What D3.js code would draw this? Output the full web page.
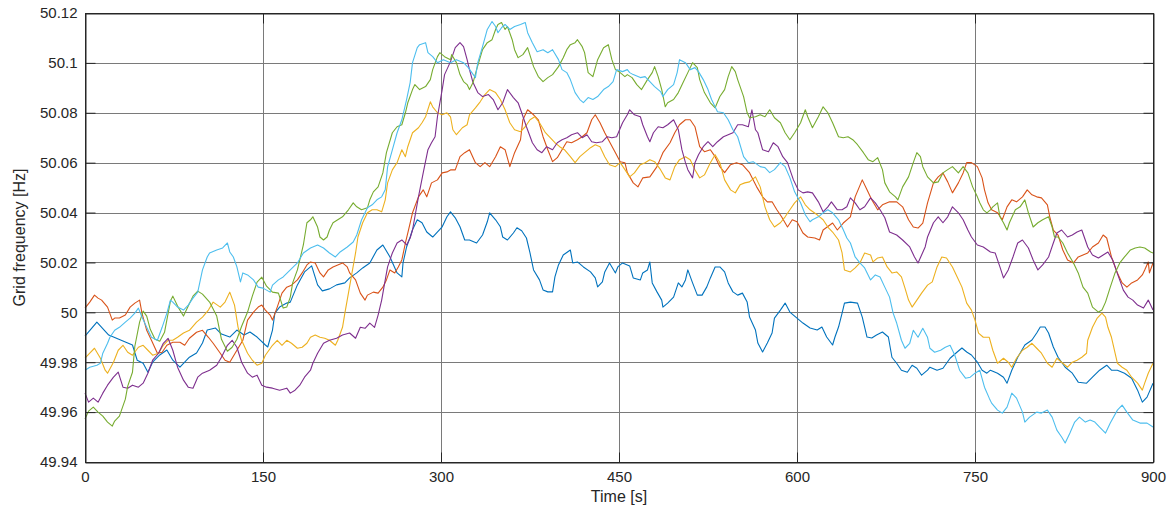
<!DOCTYPE html>
<html><head><meta charset="utf-8">
<script src="https://cdn.jsdelivr.net/npm/d3@7"></script>
<style>body{margin:0;background:#fff}svg{display:block;font-family:"Liberation Sans",Arial,sans-serif}</style>
</head><body><svg id="c" width="1171" height="515"></svg>
<script>
const timeTicks=[0,150,300,450,600,750,900];
const freqTicks=[49.94,49.96,49.98,50,50.02,50.04,50.06,50.08,50.1,50.12];
const seriesNames=["s1","s2","s3","s4","s5","s6"];
const seriesColors=["#0072BD","#D95319","#EDB120","#7E2F8E","#77AC30","#4DBEEE"];
const blue=[[0,49.9905],[10,49.9961],[20,49.9909],[30,49.9889],[40,49.9869],[44,49.9808],[49,49.9796],[53,49.976],[57,49.98],[63,49.9829],[69,49.9849],[74,49.9808],[80,49.978],[84,49.98],[88,49.982],[94,49.9837],[99,49.9877],[103,49.9929],[110,49.9937],[115,49.9913],[122,49.9901],[128,49.9929],[134,49.9909],[139,49.9921],[145,49.9901],[152,49.9869],[154,49.9861],[158,49.9929],[160,49.9997],[164,50.0021],[170,50.0037],[173,50.0041],[179,50.011],[185,50.0162],[191,50.0186],[196,50.011],[200,50.0086],[206,50.0094],[212,50.011],[219,50.0118],[223,50.0138],[229,50.0158],[234,50.0178],[240,50.0198],[246,50.025],[251,50.027],[257,50.0222],[263,50.0158],[267,50.0142],[268,50.0198],[271,50.0262],[274,50.0302],[276,50.0331],[280,50.0371],[284,50.0359],[288,50.0322],[293,50.0302],[301,50.0343],[305,50.0383],[308,50.0403],[312,50.0379],[316,50.0343],[320,50.029],[324,50.029],[330,50.0278],[335,50.031],[339,50.0363],[341,50.0399],[346,50.0371],[350,50.0343],[352,50.0302],[356,50.029],[361,50.0318],[364,50.0339],[368,50.0327],[372,50.0298],[375,50.0238],[378,50.017],[383,50.013],[386,50.009],[390,50.0082],[394,50.0082],[396,50.0142],[399,50.019],[403,50.023],[409,50.025],[411,50.0198],[415,50.0202],[420,50.0182],[426,50.0162],[430,50.0138],[432,50.0102],[436,50.0122],[438,50.0162],[442,50.0198],[447,50.0158],[449,50.0182],[453,50.0198],[459,50.0186],[462,50.0138],[468,50.013],[470,50.0158],[474,50.017],[476,50.0202],[478,50.0118],[482,50.0082],[486,50.0049],[487,50.0021],[491,50.0037],[496,50.0061],[500,50.0118],[503,50.0102],[506,50.013],[508,50.017],[512,50.0118],[516,50.0069],[520,50.0069],[524,50.0102],[527,50.0138],[531,50.0182],[535,50.0182],[539,50.0162],[542,50.0118],[546,50.0082],[550,50.0069],[554,50.0077],[558,50.0041],[560,49.9981],[565,49.9929],[567,49.9877],[571,49.9841],[575,49.9877],[579,49.9917],[581,49.9977],[586,50.0009],[590,50.0037],[594,50.0001],[600,49.9977],[605,49.9957],[611,49.9937],[617,49.9929],[621,49.9941],[625,49.9901],[630,49.9869],[632,49.9901],[635,49.9941],[638,49.9997],[640,50.0037],[645,50.0041],[651,50.0037],[655,49.9981],[659,49.9901],[663,49.9897],[667,49.9909],[672,49.9921],[677,49.9901],[680,49.982],[684,49.9796],[688,49.9768],[693,49.976],[697,49.9788],[701,49.9776],[705,49.9748],[710,49.9768],[712,49.978],[718,49.9768],[723,49.9776],[729,49.9816],[735,49.9841],[739,49.9857],[743,49.9841],[747,49.9829],[752,49.98],[756,49.9768],[760,49.9756],[763,49.9768],[769,49.9756],[774,49.974],[777,49.9716],[781,49.9768],[786,49.982],[792,49.9869],[798,49.9889],[802,49.9917],[805,49.9941],[809,49.9941],[812,49.9917],[816,49.9861],[820,49.982],[826,49.978],[832,49.9756],[837,49.972],[844,49.9716],[849,49.974],[855,49.9768],[861,49.9788],[865,49.9768],[870,49.9768],[876,49.9756],[882,49.9736],[887,49.9688],[891,49.964],[895,49.966],[900,49.9716]];
const orange=[[0,50.0017],[4,50.0041],[8,50.0069],[11,50.0057],[14,50.0049],[19,50.0021],[23,49.9969],[25,49.9977],[29,49.9977],[34,49.9989],[38,50.0021],[42,50.0037],[46,50.0049],[48,49.9997],[52,49.9928],[56,49.9888],[61,49.9836],[65,49.984],[69,49.9868],[74,49.988],[80,49.988],[84,49.9868],[88,49.9896],[94,49.992],[99,49.9928],[104,49.99],[108,49.9876],[114,49.9836],[118,49.9808],[122,49.98],[128,49.9848],[133,49.9888],[137,49.9969],[142,50.0001],[146,50.0021],[149,50.0029],[152,50.0009],[156,49.9989],[158,49.9969],[162,50.0021],[166,50.0077],[170,50.0101],[174,50.0109],[179,50.013],[183,50.0158],[187,50.019],[190,50.0202],[194,50.0198],[198,50.0158],[201,50.0142],[205,50.017],[209,50.0182],[213,50.019],[217,50.0198],[221,50.0182],[223,50.0158],[228,50.013],[232,50.0077],[236,50.0049],[238,50.0069],[243,50.0081],[247,50.0077],[251,50.0101],[254,50.013],[257,50.017],[261,50.0158],[264,50.0182],[267,50.021],[270,50.0278],[272,50.0318],[276,50.0399],[281,50.0463],[285,50.0491],[288,50.0463],[292,50.0519],[297,50.0531],[301,50.0559],[305,50.0563],[308,50.0571],[312,50.0571],[316,50.0624],[320,50.064],[324,50.0652],[329,50.06],[333,50.0584],[337,50.06],[341,50.0584],[346,50.0624],[350,50.0664],[354,50.0652],[358,50.0584],[362,50.064],[367,50.0692],[369,50.0772],[373,50.0812],[378,50.0792],[382,50.0772],[386,50.0704],[390,50.0652],[394,50.0604],[398,50.062],[402,50.0652],[406,50.0684],[410,50.068],[415,50.0692],[419,50.0704],[423,50.072],[427,50.0772],[430,50.0792],[434,50.076],[438,50.072],[442,50.0684],[447,50.064],[451,50.0604],[455,50.06],[457,50.056],[462,50.0519],[466,50.0503],[470,50.0539],[476,50.0543],[482,50.0584],[487,50.064],[493,50.068],[497,50.072],[501,50.0752],[506,50.0772],[510,50.0772],[514,50.0744],[518,50.0664],[522,50.0644],[527,50.0652],[531,50.0624],[535,50.0584],[539,50.056],[544,50.0592],[549,50.06],[554,50.0592],[560,50.056],[566,50.0503],[571,50.0463],[575,50.0443],[579,50.0443],[583,50.0411],[587,50.0383],[592,50.0342],[596,50.0371],[600,50.0363],[605,50.0318],[609,50.0302],[615,50.0298],[619,50.029],[622,50.033],[630,50.0358],[634,50.033],[639,50.0358],[645,50.0383],[649,50.0463],[655,50.0531],[659,50.0491],[663,50.0451],[668,50.0411],[672,50.0431],[678,50.0443],[684,50.0443],[689,50.0423],[694,50.0371],[698,50.0342],[702,50.0338],[706,50.0358],[710,50.0439],[715,50.0519],[719,50.0543],[723,50.0559],[727,50.0523],[731,50.0479],[736,50.0519],[740,50.0559],[743,50.06],[747,50.06],[752,50.0584],[756,50.0539],[758,50.0491],[761,50.0439],[764,50.0411],[769,50.0399],[773,50.0371],[777,50.0423],[781,50.0451],[785,50.0443],[790,50.0463],[794,50.0491],[798,50.0471],[802,50.0463],[806,50.0459],[811,50.0431],[813,50.0383],[816,50.033],[820,50.031],[824,50.025],[828,50.021],[833,50.0198],[837,50.0222],[841,50.023],[845,50.0238],[849,50.0262],[854,50.0278],[858,50.031],[861,50.0298],[865,50.0222],[870,50.0158],[874,50.0118],[878,50.0101],[882,50.0118],[887,50.013],[891,50.015],[893,50.017],[896,50.0202],[897,50.0158],[900,50.0198]];
const yellow=[[0,49.9816],[4,49.9836],[8,49.9856],[13,49.9816],[17,49.9768],[19,49.9756],[24,49.98],[28,49.9848],[32,49.9868],[36,49.984],[40,49.9828],[45,49.986],[49,49.9868],[53,49.9848],[57,49.9828],[62,49.9836],[66,49.9868],[70,49.9888],[74,49.9888],[78,49.99],[83,49.9917],[88,49.9928],[94,49.9961],[99,49.9981],[104,50.0009],[108,50.0041],[114,50.0021],[118,50.0041],[122,50.0081],[126,50.0029],[129,49.994],[132,49.9888],[137,49.9836],[141,49.9808],[145,49.9788],[149,49.9796],[152,49.9828],[158,49.9868],[162,49.9888],[166,49.9868],[170,49.9888],[174,49.9876],[179,49.9856],[183,49.986],[187,49.9876],[190,49.99],[194,49.9909],[198,49.99],[202,49.9896],[206,49.9888],[211,49.9868],[213,49.9888],[217,49.994],[219,49.9997],[222,50.0077],[225,50.0158],[228,50.0238],[230,50.0302],[234,50.0359],[238,50.0399],[242,50.0411],[246,50.0411],[250,50.0403],[253,50.0451],[255,50.0519],[259,50.0571],[263,50.06],[267,50.0652],[270,50.0624],[272,50.0664],[276,50.072],[281,50.074],[284,50.076],[287,50.0784],[291,50.0844],[293,50.0824],[297,50.08],[301,50.0792],[305,50.08],[308,50.0784],[310,50.0732],[313,50.0712],[318,50.074],[322,50.0752],[324,50.0792],[329,50.082],[333,50.0844],[337,50.0873],[341,50.0893],[346,50.0881],[350,50.0853],[354,50.0812],[358,50.076],[362,50.0732],[367,50.0724],[371,50.0744],[375,50.0772],[379,50.0784],[383,50.076],[388,50.072],[392,50.07],[396,50.068],[400,50.0664],[404,50.0652],[409,50.0624],[413,50.06],[417,50.0624],[421,50.064],[426,50.066],[430,50.0672],[434,50.0664],[438,50.0624],[442,50.0592],[447,50.0584],[451,50.06],[455,50.0572],[459,50.0543],[463,50.0559],[468,50.0592],[472,50.06],[476,50.0612],[480,50.0604],[485,50.0572],[489,50.0539],[493,50.0531],[497,50.0584],[501,50.0612],[506,50.0624],[510,50.0612],[514,50.0572],[518,50.0539],[522,50.0551],[527,50.06],[531,50.0632],[535,50.06],[539,50.0531],[544,50.0491],[548,50.0479],[552,50.0511],[556,50.0519],[560,50.0523],[565,50.0543],[569,50.0503],[573,50.0423],[577,50.0371],[581,50.0342],[586,50.0359],[590,50.0383],[594,50.0411],[598,50.0439],[603,50.0463],[607,50.0431],[611,50.0411],[617,50.0391],[622,50.0371],[626,50.0342],[630,50.0322],[635,50.029],[638,50.0238],[640,50.017],[645,50.0162],[649,50.0178],[653,50.0198],[657,50.0238],[662,50.023],[664,50.0202],[668,50.0218],[672,50.0222],[676,50.0182],[680,50.0158],[684,50.0162],[688,50.0142],[691,50.0097],[694,50.0049],[697,50.0021],[701,50.0049],[705,50.0077],[710,50.0109],[714,50.0122],[718,50.0182],[722,50.0222],[726,50.0218],[731,50.0182],[735,50.0142],[739,50.0101],[743,50.0037],[747,50.0009],[750,49.9969],[753,49.9917],[757,49.99],[762,49.99],[765,49.9848],[769,49.9796],[774,49.9816],[778,49.98],[781,49.978],[785,49.9816],[790,49.9848],[794,49.986],[798,49.9876],[802,49.9856],[806,49.9836],[811,49.9796],[815,49.978],[819,49.9816],[823,49.98],[828,49.978],[832,49.98],[836,49.9808],[840,49.982],[844,49.9836],[845,49.9888],[849,49.994],[853,49.9977],[857,49.9997],[860,49.9981],[862,49.994],[865,49.99],[870,49.9796],[874,49.978],[878,49.9768],[882,49.974],[887,49.9716],[891,49.9688],[893,49.9716],[896,49.9756],[900,49.9796]];
const purple=[[0,49.9676],[3,49.964],[7,49.9656],[11,49.964],[15,49.9676],[19,49.9708],[24,49.974],[28,49.976],[32,49.97],[36,49.9696],[40,49.9708],[45,49.97],[49,49.9716],[53,49.9756],[57,49.9808],[62,49.9836],[66,49.9876],[70,49.9896],[74,49.9848],[78,49.978],[83,49.9728],[87,49.97],[91,49.9696],[95,49.974],[99,49.9756],[105,49.9768],[111,49.9788],[115,49.982],[120,49.9868],[124,49.9888],[128,49.986],[132,49.98],[137,49.9756],[141,49.974],[145,49.9748],[149,49.9708],[153,49.97],[158,49.9696],[164,49.9688],[170,49.9696],[173,49.9676],[177,49.9688],[181,49.9708],[185,49.974],[190,49.9768],[192,49.9796],[196,49.9836],[201,49.9876],[206,49.9888],[212,49.9896],[217,49.9909],[223,49.9917],[228,49.9896],[232,49.994],[236,49.9936],[240,49.9957],[244,49.994],[247,49.9989],[250,50.0049],[253,50.013],[255,50.0182],[259,50.0238],[263,50.0278],[267,50.029],[271,50.027],[274,50.0298],[276,50.033],[281,50.0463],[285,50.0559],[289,50.0652],[292,50.068],[295,50.0704],[297,50.0784],[301,50.0893],[303,50.0953],[308,50.1005],[312,50.1061],[316,50.1081],[319,50.1065],[322,50.1013],[324,50.0973],[327,50.0921],[331,50.0881],[335,50.0865],[340,50.0873],[344,50.0853],[348,50.0812],[352,50.084],[356,50.0893],[361,50.0861],[365,50.084],[368,50.08],[372,50.0744],[377,50.068],[381,50.0652],[385,50.064],[389,50.0664],[394,50.0652],[398,50.068],[402,50.0692],[406,50.07],[410,50.0712],[415,50.072],[419,50.07],[423,50.0712],[427,50.0684],[431,50.068],[436,50.0684],[440,50.0704],[444,50.07],[448,50.0704],[453,50.076],[457,50.0792],[459,50.0812],[463,50.0792],[468,50.0784],[470,50.0752],[474,50.0704],[476,50.0684],[479,50.072],[483,50.0744],[487,50.074],[491,50.0752],[496,50.0772],[500,50.0732],[503,50.0652],[506,50.06],[508,50.0572],[512,50.0539],[514,50.06],[517,50.0632],[521,50.0664],[525,50.0684],[529,50.0664],[533,50.0684],[538,50.0704],[542,50.0712],[546,50.072],[550,50.0752],[554,50.0752],[559,50.0744],[562,50.0812],[565,50.0732],[567,50.072],[571,50.0652],[576,50.0644],[580,50.068],[584,50.0664],[588,50.0624],[592,50.06],[597,50.0531],[601,50.0491],[605,50.0479],[609,50.0483],[613,50.0479],[618,50.0443],[622,50.0403],[626,50.0423],[629,50.0443],[634,50.0411],[638,50.0411],[642,50.0423],[645,50.0459],[649,50.0439],[653,50.0411],[657,50.0423],[662,50.0459],[666,50.0439],[670,50.0411],[674,50.0379],[678,50.0322],[684,50.031],[689,50.029],[695,50.0262],[699,50.0222],[702,50.0198],[705,50.023],[708,50.0262],[710,50.0302],[715,50.0359],[719,50.0383],[723,50.0359],[727,50.0383],[731,50.0423],[736,50.0399],[740,50.0371],[744,50.033],[747,50.0302],[752,50.027],[757,50.0262],[763,50.0242],[767,50.0238],[771,50.0182],[774,50.0138],[778,50.017],[782,50.0222],[786,50.0278],[790,50.029],[795,50.0258],[799,50.021],[803,50.017],[807,50.019],[812,50.0222],[816,50.0278],[819,50.0318],[823,50.033],[828,50.0302],[832,50.031],[836,50.0322],[840,50.033],[845,50.0262],[849,50.023],[854,50.0218],[858,50.023],[862,50.0242],[866,50.021],[871,50.0142],[875,50.0089],[879,50.0061],[883,50.0049],[887,50.0029],[892,50.0017],[896,50.0049],[900,50.0009]];
const green=[[0,49.9572],[3,49.9604],[7,49.962],[11,49.96],[15,49.9584],[19,49.956],[23,49.9544],[25,49.9564],[29,49.9584],[34,49.9652],[36,49.9704],[40,49.976],[42,49.9864],[46,49.9961],[49,50.0005],[52,49.9985],[55,49.9932],[59,49.9892],[63,49.9884],[67,49.992],[72,50.0045],[74,50.0065],[78,50.0025],[83,49.9985],[87,50.0025],[91,50.0065],[95,50.0085],[99,50.0073],[105,50.0041],[111,49.9985],[115,49.9892],[120,49.9844],[124,49.986],[128,49.9892],[132,49.9944],[137,50.0001],[141,50.0065],[145,50.0121],[149,50.0141],[153,50.0105],[158,50.0081],[163,50.0077],[167,50.0017],[170,50.0021],[173,50.0061],[175,50.0118],[179,50.017],[181,50.021],[184,50.027],[187,50.0359],[190,50.0371],[192,50.0383],[196,50.0342],[198,50.0302],[201,50.029],[204,50.0302],[206,50.033],[209,50.0359],[213,50.0371],[217,50.0383],[222,50.0411],[226,50.0439],[229,50.0423],[233,50.0411],[238,50.0419],[240,50.0451],[243,50.0483],[247,50.0503],[251,50.0559],[254,50.064],[259,50.072],[263,50.0744],[267,50.0752],[270,50.08],[272,50.084],[276,50.0893],[278,50.0913],[282,50.0893],[287,50.0905],[291,50.0933],[293,50.0973],[297,50.1025],[299,50.1041],[303,50.1025],[308,50.1013],[309,50.1033],[313,50.1001],[316,50.0953],[319,50.0925],[322,50.0913],[324,50.0893],[327,50.0921],[330,50.0973],[335,50.1053],[339,50.1081],[343,50.1093],[346,50.1134],[348,50.1154],[351,50.1162],[354,50.1134],[356,50.1146],[360,50.1093],[362,50.1053],[365,50.1021],[369,50.1033],[373,50.1061],[378,50.0985],[382,50.0945],[386,50.0925],[390,50.0941],[394,50.0953],[399,50.0985],[403,50.1021],[406,50.1053],[409,50.1073],[413,50.1081],[415,50.1093],[419,50.1065],[421,50.1041],[424,50.0961],[428,50.0945],[432,50.1013],[437,50.1061],[441,50.1073],[444,50.1013],[447,50.0973],[451,50.0961],[455,50.0945],[457,50.0953],[461,50.0941],[465,50.0913],[469,50.0893],[474,50.0933],[478,50.0961],[480,50.0985],[483,50.0945],[486,50.0893],[489,50.0824],[491,50.084],[496,50.0853],[500,50.0881],[504,50.0921],[508,50.0961],[512,50.1001],[516,50.0981],[518,50.0933],[522,50.0881],[527,50.084],[531,50.082],[535,50.0865],[539,50.0893],[542,50.0945],[545,50.0985],[548,50.0965],[550,50.0933],[555,50.0865],[558,50.08],[560,50.078],[565,50.0784],[569,50.0792],[573,50.0784],[577,50.0812],[581,50.078],[586,50.076],[590,50.072],[594,50.0692],[598,50.072],[603,50.076],[607,50.0812],[609,50.0784],[613,50.074],[618,50.0784],[622,50.0824],[626,50.08],[630,50.076],[635,50.0704],[639,50.07],[643,50.0704],[647,50.0692],[651,50.0672],[656,50.064],[660,50.0612],[664,50.0604],[668,50.062],[672,50.0572],[674,50.0519],[678,50.0483],[683,50.0463],[685,50.0451],[689,50.0503],[694,50.0543],[698,50.06],[701,50.064],[704,50.0624],[706,50.0584],[710,50.0543],[715,50.0519],[719,50.0523],[723,50.0559],[727,50.0572],[731,50.0584],[736,50.0559],[740,50.0584],[744,50.0559],[748,50.0503],[752,50.0463],[754,50.0439],[757,50.0411],[760,50.0399],[763,50.0411],[765,50.0423],[769,50.0439],[771,50.0383],[774,50.0359],[777,50.033],[779,50.0359],[784,50.0411],[788,50.0423],[792,50.0451],[795,50.0399],[799,50.0342],[803,50.0359],[807,50.0371],[812,50.0383],[815,50.0342],[817,50.0302],[820,50.0302],[824,50.0278],[828,50.0238],[833,50.0198],[837,50.0158],[841,50.0101],[845,50.0077],[849,50.0021],[854,50.0001],[857,50.0009],[860,50.0041],[864,50.0101],[868,50.0158],[872,50.0198],[876,50.0222],[881,50.025],[885,50.0258],[889,50.0262],[893,50.0258],[898,50.0242],[900,50.0238]];
const cyan=[[0,49.9768],[4,49.978],[10,49.9788],[13,49.9796],[15,49.9836],[19,49.9876],[21,49.99],[25,49.9928],[29,49.994],[34,49.9961],[38,49.9977],[42,49.9997],[45,50.0017],[48,49.9981],[52,49.994],[56,49.99],[61,49.9888],[65,49.994],[69,49.9997],[72,50.0049],[74,50.0041],[78,50.0021],[83,50.0009],[87,50.0029],[91,50.0057],[95,50.0081],[99,50.017],[103,50.0222],[105,50.0238],[111,50.025],[116,50.0258],[120,50.0278],[122,50.0242],[125,50.0222],[128,50.0182],[131,50.0122],[133,50.0158],[137,50.015],[142,50.013],[146,50.0101],[150,50.0097],[156,50.0081],[158,50.0109],[163,50.013],[167,50.0142],[173,50.017],[179,50.0198],[184,50.0238],[190,50.0258],[196,50.027],[201,50.0258],[206,50.0238],[211,50.0222],[215,50.0242],[221,50.0262],[226,50.0282],[229,50.031],[233,50.037],[238,50.0419],[242,50.0431],[246,50.0451],[250,50.0463],[253,50.0491],[255,50.0583],[259,50.0651],[263,50.072],[267,50.0772],[271,50.0853],[274,50.0921],[276,50.1001],[280,50.1061],[282,50.1073],[287,50.1081],[289,50.1041],[293,50.1025],[297,50.1001],[302,50.1013],[308,50.1001],[313,50.1013],[319,50.1001],[323,50.0981],[326,50.0961],[329,50.0941],[331,50.1001],[335,50.1065],[339,50.1134],[343,50.1166],[346,50.1146],[348,50.1121],[351,50.1141],[354,50.1154],[358,50.1134],[362,50.1146],[367,50.1154],[371,50.1162],[373,50.1121],[377,50.1081],[381,50.1045],[386,50.1053],[390,50.1041],[394,50.1053],[399,50.1013],[402,50.0973],[406,50.0961],[409,50.0933],[413,50.0881],[417,50.0853],[420,50.0841],[424,50.0861],[428,50.0853],[432,50.0865],[437,50.0893],[441,50.0905],[445,50.0925],[448,50.0973],[453,50.0965],[457,50.0973],[459,50.0961],[462,50.0953],[468,50.0941],[472,50.0945],[476,50.0925],[480,50.0905],[485,50.0885],[487,50.0865],[491,50.0893],[496,50.0913],[499,50.0961],[501,50.1013],[506,50.1001],[510,50.0973],[514,50.0981],[517,50.0965],[521,50.0933],[525,50.0893],[528,50.0853],[533,50.0804],[538,50.08],[542,50.0772],[546,50.0732],[550,50.0704],[555,50.0624],[559,50.06],[563,50.0604],[569,50.0584],[573,50.058],[577,50.056],[581,50.0572],[586,50.06],[590,50.0584],[594,50.054],[598,50.0483],[603,50.0439],[607,50.0391],[611,50.0363],[613,50.0371],[618,50.0383],[622,50.0399],[626,50.0411],[630,50.0399],[635,50.0371],[639,50.0331],[642,50.0298],[645,50.0278],[649,50.0222],[653,50.0198],[657,50.0178],[662,50.013],[666,50.015],[670,50.0142],[674,50.0101],[678,50.0061],[681,49.9997],[684,49.9957],[688,49.9888],[691,49.9856],[695,49.9876],[698,49.9928],[702,49.99],[706,49.9936],[710,49.99],[712,49.9856],[716,49.984],[721,49.9848],[725,49.986],[729,49.9868],[733,49.9828],[737,49.9768],[742,49.9736],[746,49.974],[750,49.9756],[754,49.9768],[758,49.97],[762,49.9656],[764,49.9636],[769,49.9608],[773,49.9596],[777,49.962],[781,49.9676],[785,49.9656],[790,49.96],[792,49.956],[796,49.958],[802,49.96],[806,49.9596],[811,49.9608],[815,49.958],[819,49.9528],[823,49.95],[826,49.9476],[830,49.9516],[834,49.956],[838,49.958],[843,49.956],[847,49.9568],[851,49.956],[855,49.954],[860,49.9516],[864,49.9556],[870,49.9608],[874,49.9628],[878,49.96],[883,49.9568],[889,49.9556],[895,49.9556],[900,49.954]];
const seriesData=[blue,orange,yellow,purple,green,cyan];

const svg=d3.select("#c");
const L=85,R=1153,T=13,B=462;
const x=d3.scaleLinear().domain([0,900]).range([L,R]);
const y=d3.scaleLinear().domain([49.94,50.12]).range([B,T]);
const ink="#262626";
// grid
svg.append("g").selectAll("line").data(freqTicks).join("line")
 .attr("x1",L).attr("x2",R).attr("y1",d=>Math.round(y(d))+0.5).attr("y2",d=>Math.round(y(d))+0.5)
 .attr("stroke","#7a7a7a").attr("stroke-width",1);
svg.append("g").selectAll("line").data(timeTicks).join("line")
 .attr("y1",T).attr("y2",B).attr("x1",d=>Math.round(x(d))+0.5).attr("x2",d=>Math.round(x(d))+0.5)
 .attr("stroke","#7a7a7a").attr("stroke-width",1);
// series
const line=d3.line().x(d=>x(d[0])).y(d=>y(d[1]));
svg.append("g").attr("clip-path",null).selectAll("path").data(seriesData).join("path")
 .attr("d",line).attr("fill","none").attr("stroke",(d,i)=>seriesColors[i]).attr("stroke-width",1.1).attr("stroke-linejoin","round");
// axes (ticks inward, MATLAB style)
const fmt=d=>d3.format("")(+d.toFixed(2));
const axL=svg.append("g").attr("transform",`translate(${L+0.5},0)`).call(d3.axisLeft(y).tickValues(freqTicks).tickSizeInner(-10).tickSizeOuter(0).tickPadding(8).tickFormat(fmt));
const axB=svg.append("g").attr("transform",`translate(0,${B+0.5})`).call(d3.axisBottom(x).tickValues(timeTicks).tickSizeInner(-10).tickSizeOuter(0).tickPadding(9).tickFormat(d3.format("d")));
const axR=svg.append("g").attr("transform",`translate(${R+0.5},0)`).call(d3.axisRight(y).tickValues(freqTicks).tickSizeInner(-10).tickSizeOuter(0).tickFormat(""));
const axT=svg.append("g").attr("transform",`translate(0,${T+0.5})`).call(d3.axisTop(x).tickValues(timeTicks).tickSizeInner(-10).tickSizeOuter(0).tickFormat(""));
[axL,axB,axR,axT].forEach(a=>{a.select(".domain").attr("stroke",ink);a.selectAll(".tick line").attr("stroke",ink);a.selectAll("text").attr("fill",ink).attr("font-size",15).attr("font-family","Liberation Sans, Arial, sans-serif");});
svg.append("rect").attr("x",L+0.5).attr("y",T+0.5).attr("width",R-L).attr("height",B-T).attr("fill","none").attr("stroke",ink);
svg.append("text").attr("x",(L+R)/2).attr("y",502).attr("text-anchor","middle").attr("fill",ink).attr("font-size",16).text("Time [s]");
svg.append("text").attr("transform",`translate(25,${(T+B)/2}) rotate(-90)`).attr("text-anchor","middle").attr("fill",ink).attr("font-size",16).text("Grid frequency [Hz]");
</script></body></html>
